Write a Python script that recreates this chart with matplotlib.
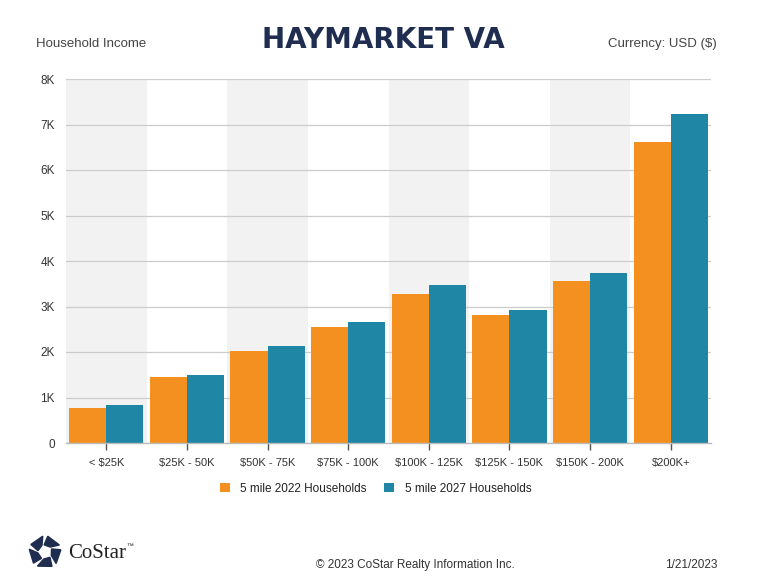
import matplotlib
matplotlib.use("Agg")
import matplotlib.pyplot as plt
import numpy as np
from matplotlib.patches import Polygon

plt.rcParams['font.family'] = ['Liberation Sans', 'DejaVu Sans']

# data (households)
categories = ["< $25K", "$25K - 50K", "$50K - 75K", "$75K - 100K",
              "$100K - 125K", "$125K - 150K", "$150K - 200K", "$200K+"]
hh_2022 = [780, 1440, 2030, 2560, 3280, 2810, 3550, 6620]
hh_2027 = [830, 1500, 2130, 2660, 3470, 2930, 3730, 7240]
yticks = [0, 1000, 2000, 3000, 4000, 5000, 6000, 7000, 8000]
ytick_labels = ["0", "1K", "2K", "3K", "4K", "5K", "6K", "7K", "8K"]

orange = "#F3901F"
teal = "#1F86A6"
navy = "#1F2D50"
text_grey = "#444444"

fig = plt.figure(figsize=(7.61, 5.88), dpi=100)
ax = fig.add_axes([66/761, 1-443/588, (711-66)/761, (443-79)/588])

x = np.arange(len(categories))
w = 0.46

# alternating background bands
for i in x:
    if i % 2 == 0:
        ax.axvspan(i-0.5, i+0.5, color="#f2f2f2", zorder=0, lw=0)

ax.bar(x-w, hh_2022, width=w, align='edge', color=orange, zorder=3, label="5 mile 2022 Households")
ax.bar(x, hh_2027, width=w, align='edge', color=teal, zorder=3, label="5 mile 2027 Households")

ax.set_xlim(-0.5, len(categories)-0.5)
ax.set_ylim(0, 8000)
ax.set_yticks(yticks)
ax.set_yticklabels(ytick_labels, fontsize=8.5, color="#333333")
ax.set_xticks(x)
ax.set_xticklabels(categories, fontsize=8, color="#333333")
ax.tick_params(axis='y', length=0, pad=8)
ax.tick_params(axis='x', length=5, width=1, color="#555555", pad=6)
ax.grid(axis='y', color="#cccccc", lw=0.9, zorder=1)
for s in ["top", "right", "left"]:
    ax.spines[s].set_visible(False)
ax.spines["bottom"].set_color("#bbbbbb")
ax.spines["bottom"].set_linewidth(1.0)
ax.spines["bottom"].set_zorder(4)

leg = ax.legend(loc='upper center', bbox_to_anchor=(0.48, -0.08), ncol=2, frameon=False,
                fontsize=8.5, handlelength=0.85, handleheight=0.85, handletextpad=0.9,
                columnspacing=1.5)
for t in leg.get_texts():
    t.set_color("#222222")

# header
fig.text(36/761, 1-44/588, "Household Income", fontsize=9.5, color=text_grey, va='center', ha='left')
fig.text(717/761, 1-44/588, "Currency: USD ($)", fontsize=9.5, color=text_grey, va='center', ha='right')
fig.text(383/761, 1-40/588, "HAYMARKET VA", fontsize=20, fontweight='bold', color=navy,
         va='center', ha='center', family=['DejaVu Sans'])

# footer
fig.text(415/761, 1-565/588, "\u00a9 2023 CoStar Realty Information Inc.", fontsize=8.5,
         color="#333333", ha='center', va='center')
fig.text(717/761, 1-565/588, "1/21/2023", fontsize=8.5, color="#333333", ha='right', va='center')

# rough CoStar logo mark
cx, cy, r = 45, 552, 16
for k in range(5):
    a0 = np.deg2rad(90 + 72*k + 8)
    a1 = np.deg2rad(90 + 72*k + 62)
    pts = [(cx + r*np.cos(a0), cy - r*np.sin(a0)),
           (cx + r*np.cos(a1), cy - r*np.sin(a1)),
           (cx + 0.45*r*np.cos(a1+0.3), cy - 0.45*r*np.sin(a1+0.3)),
           (cx + 0.45*r*np.cos(a0+0.3), cy - 0.45*r*np.sin(a0+0.3))]
    pts = [(px/761, 1-py/588) for px, py in pts]
    fig.patches.append(Polygon(pts, closed=True, transform=fig.transFigure, color=navy))
fig.text(68/761, 1-553/588, "CoStar", fontsize=15, color="#222222", ha='left', va='center',
         family=['Liberation Serif', 'DejaVu Serif'])
fig.text(126/761, 1-547/588, "\u2122", fontsize=5, color="#222222", ha='left', va='center')

fig.savefig("out.png", dpi=100)
